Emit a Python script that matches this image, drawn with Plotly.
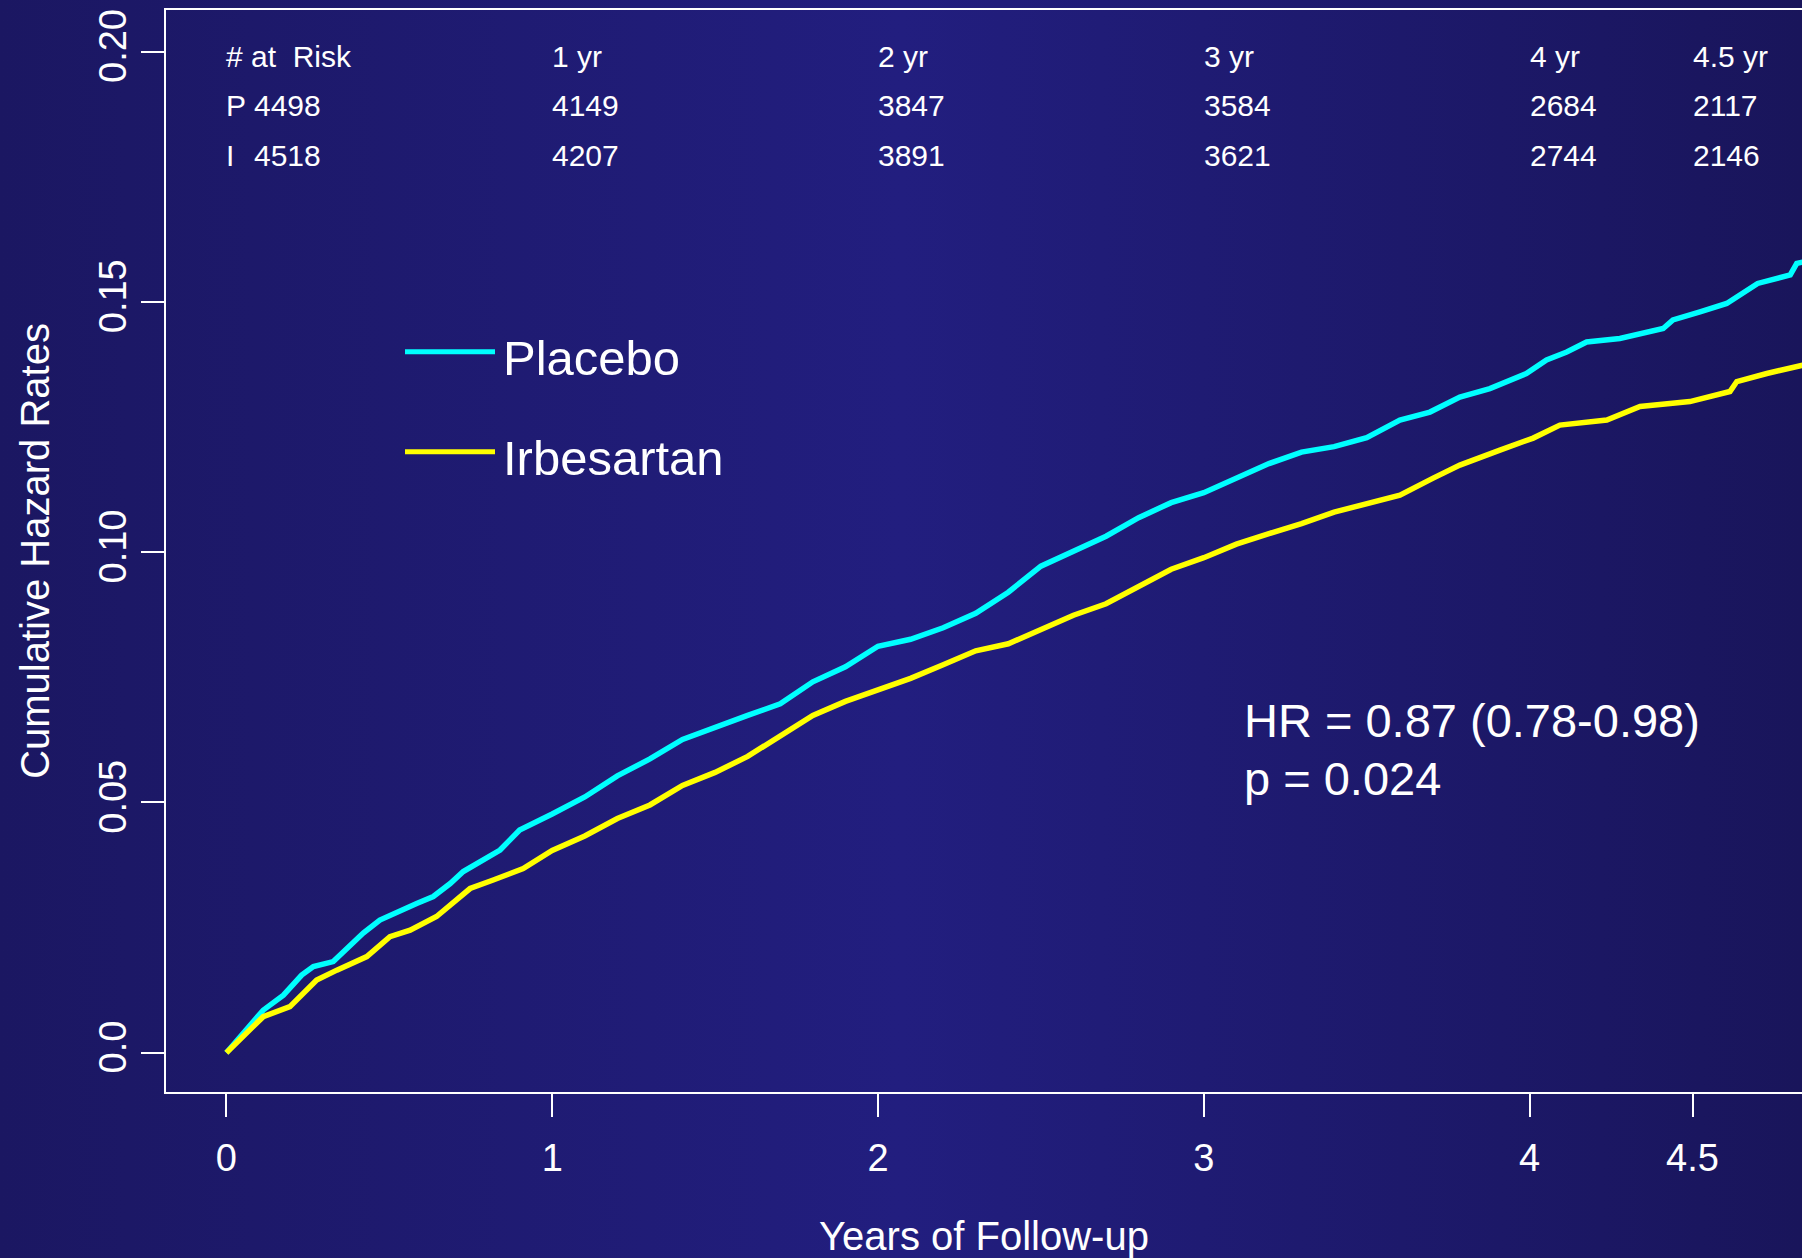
import base64
import plotly.graph_objects as go

# ---------------- data ----------------
placebo_years = [0, 0.113, 0.175, 0.231, 0.267, 0.328, 0.42, 0.471, 0.584, 0.635, 0.687, 0.727,
                 0.84, 0.9, 1.0, 1.1, 1.2, 1.3, 1.4, 1.5, 1.6, 1.7, 1.8, 1.9, 2.0, 2.1, 2.2, 2.3,
                 2.4, 2.5, 2.6, 2.7, 2.8, 2.9, 3.0, 3.1, 3.2, 3.3, 3.4, 3.5, 3.602, 3.694, 3.786,
                 3.878, 3.99, 4.052, 4.114, 4.175, 4.277, 4.41, 4.44, 4.523, 4.605, 4.70, 4.80,
                 4.82, 4.84]
placebo_hazard = [0, 0.0085, 0.0115, 0.0155, 0.0172, 0.0182, 0.0239, 0.0265, 0.0298, 0.0312,
                  0.0338, 0.0362, 0.0405, 0.0445, 0.0477, 0.0511, 0.0553, 0.0587, 0.0626, 0.0651,
                  0.0674, 0.0697, 0.0741, 0.0771, 0.0812, 0.0826, 0.0849, 0.0878, 0.092, 0.0972,
                  0.1002, 0.1032, 0.1069, 0.1099, 0.1119, 0.1147, 0.1177, 0.12, 0.1211, 0.1229,
                  0.1264, 0.128, 0.131, 0.1327, 0.1357, 0.1384, 0.14, 0.142, 0.1427, 0.1447,
                  0.1464, 0.148, 0.1497, 0.1537, 0.1554, 0.1577, 0.158]

irbesartan_years = [0, 0.113, 0.195, 0.277, 0.339, 0.431, 0.502, 0.564, 0.645, 0.748, 0.819,
                    0.911, 1.0, 1.1, 1.2, 1.3, 1.4, 1.5, 1.6, 1.7, 1.8, 1.9, 2.0, 2.1, 2.2, 2.3,
                    2.4, 2.5, 2.6, 2.7, 2.8, 2.9, 3.0, 3.1, 3.2, 3.3, 3.4, 3.5, 3.602, 3.704,
                    3.786, 3.909, 4.011, 4.093, 4.237, 4.339, 4.492, 4.615, 4.636, 4.728, 4.84]
irbesartan_hazard = [0, 0.0072, 0.0092, 0.0145, 0.0165, 0.0192, 0.0232, 0.0245, 0.0272, 0.0328,
                     0.0345, 0.0368, 0.0404, 0.0433, 0.0468, 0.0495, 0.0534, 0.056, 0.0592,
                     0.0633, 0.0674, 0.0702, 0.0725, 0.0748, 0.0775, 0.0803, 0.0817, 0.0846,
                     0.0874, 0.0897, 0.0931, 0.0966, 0.0989, 0.1016, 0.1037, 0.1057, 0.108,
                     0.1096, 0.1114, 0.1148, 0.1174, 0.1204, 0.1228, 0.1254, 0.1264, 0.1291,
                     0.1301, 0.1321, 0.1341, 0.1357, 0.1374]

x_tick_values = [0, 1, 2, 3, 4, 4.5]
x_tick_labels = ["0", "1", "2", "3", "4", "4.5"]
y_tick_values = [0, 0.05, 0.10, 0.15, 0.20]
y_tick_labels = ["0.0", "0.05", "0.10", "0.15", "0.20"]

risk_times = [0, 1, 2, 3, 4, 4.5]
risk_headers = ["# at  Risk", "1 yr", "2 yr", "3 yr", "4 yr", "4.5 yr"]
placebo_at_risk = [4498, 4149, 3847, 3584, 2684, 2117]
irbesartan_at_risk = [4518, 4207, 3891, 3621, 2744, 2146]

series_names = ["Placebo", "Irbesartan"]
series_colors = ["#00FFFF", "#FFFF00"]

hr_text = "HR = 0.87 (0.78-0.98)"
p_text = "p = 0.024"

# ---------------- figure ----------------
W, H = 1802, 1258
ML, MR, MT, MB = 166, 0, 10, 166
FONT = "Liberation Sans, Arial, Helvetica, sans-serif"
WHITE = "#FFFFFF"

fig = go.Figure()
fig.add_trace(go.Scatter(x=placebo_years, y=placebo_hazard, mode="lines",
                         name=series_names[0],
                         line=dict(color=series_colors[0], width=5.5), showlegend=False))
fig.add_trace(go.Scatter(x=irbesartan_years, y=irbesartan_hazard, mode="lines",
                         name=series_names[1],
                         line=dict(color=series_colors[1], width=5.5), showlegend=False))

# background gradient
svg = ('<svg xmlns="http://www.w3.org/2000/svg" width="1802" height="1258" '
       'preserveAspectRatio="none"><defs><linearGradient id="g" x1="0" y1="0" x2="1" y2="0">'
       '<stop offset="0" stop-color="#1b1762"/><stop offset="0.5" stop-color="#221e7f"/>'
       '<stop offset="1" stop-color="#19155b"/></linearGradient></defs>'
       '<rect width="1802" height="1258" fill="url(#g)"/></svg>')
src = "data:image/svg+xml;base64," + base64.b64encode(svg.encode()).decode()
pw, ph = W - ML - MR, H - MT - MB
fig.add_layout_image(dict(source=src, xref="paper", yref="paper",
                          x=-ML / pw, y=1 + MT / ph, sizex=W / pw, sizey=H / ph,
                          xanchor="left", yanchor="top", sizing="stretch", layer="below"))

def px_to_paper_x(px):
    return (px - ML) / pw

def px_to_paper_y(py):
    return (H - MB - py) / ph

annotations = []
# at-risk table
row_y = [px_to_paper_y(56.7), px_to_paper_y(105.5), px_to_paper_y(155.5)]
for t, hdr in zip(risk_times, risk_headers):
    annotations.append(dict(x=t, xref="x", y=row_y[0], yref="paper", text=hdr,
                            showarrow=False, xanchor="left", yanchor="middle", xshift=-2,
                            font=dict(size=30, color=WHITE, family=FONT)))
for i, (t, pv, iv) in enumerate(zip(risk_times, placebo_at_risk, irbesartan_at_risk)):
    shift = 26 if i == 0 else -2
    annotations.append(dict(x=t, xref="x", y=row_y[1], yref="paper", text=str(pv),
                            showarrow=False, xanchor="left", yanchor="middle", xshift=shift,
                            font=dict(size=30, color=WHITE, family=FONT)))
    annotations.append(dict(x=t, xref="x", y=row_y[2], yref="paper", text=str(iv),
                            showarrow=False, xanchor="left", yanchor="middle", xshift=shift,
                            font=dict(size=30, color=WHITE, family=FONT)))
for lab, ry in zip(["P", "I"], row_y[1:]):
    annotations.append(dict(x=risk_times[0], xref="x", y=ry, yref="paper", text=lab,
                            showarrow=False, xanchor="left", yanchor="middle", xshift=-2,
                            font=dict(size=30, color=WHITE, family=FONT)))

# legend (manual)
shapes = []
leg_y = [px_to_paper_y(351.7), px_to_paper_y(451.7)]
leg_text_y = [px_to_paper_y(358), px_to_paper_y(458)]
for name, col, ly, ty in zip(series_names, series_colors, leg_y, leg_text_y):
    shapes.append(dict(type="line", xref="paper", yref="paper",
                       x0=px_to_paper_x(405), x1=px_to_paper_x(495), y0=ly, y1=ly,
                       line=dict(color=col, width=5)))
    annotations.append(dict(x=px_to_paper_x(501), xref="paper", y=ty, yref="paper",
                            text=name, showarrow=False, xanchor="left", yanchor="middle",
                            font=dict(size=49, color=WHITE, family=FONT)))

# HR / p text
annotations.append(dict(x=px_to_paper_x(1242), xref="paper", y=px_to_paper_y(720), yref="paper",
                        text=hr_text, showarrow=False, xanchor="left", yanchor="middle",
                        font=dict(size=47, color=WHITE, family=FONT)))
annotations.append(dict(x=px_to_paper_x(1242), xref="paper", y=px_to_paper_y(778), yref="paper",
                        text=p_text, showarrow=False, xanchor="left", yanchor="middle",
                        font=dict(size=47, color=WHITE, family=FONT)))

x0_px = 226.4
per_year = 325.8
y0_px = 1052.7
per_unit = 5005.0

fig.update_layout(
    width=W, height=H,
    margin=dict(l=ML, r=MR, t=MT, b=MB, pad=0),
    paper_bgcolor="#1e1a70",
    plot_bgcolor="rgba(0,0,0,0)",
    font=dict(family=FONT, color=WHITE),
    annotations=annotations,
    shapes=shapes,
    xaxis=dict(range=[-(x0_px - ML) / per_year, (W - MR - x0_px) / per_year],
               tickmode="array", tickvals=x_tick_values, ticktext=x_tick_labels,
               showgrid=False, zeroline=False, showline=True, linecolor=WHITE, linewidth=2,
               mirror=True, ticks="outside", ticklen=23, tickwidth=2, tickcolor=WHITE,
               tickfont=dict(size=38, color=WHITE, family=FONT), ticklabelstandoff=8,
               title=dict(text="Years of Follow-up", font=dict(size=40, color=WHITE, family=FONT),
                          standoff=44)),
    yaxis=dict(range=[-(H - MB - y0_px) / per_unit, (y0_px - MT) / per_unit],
               tickmode="array", tickvals=y_tick_values, ticktext=y_tick_labels,
               showgrid=False, zeroline=False, showline=True, linecolor=WHITE, linewidth=2,
               mirror=False, ticks="outside", ticklen=23, tickwidth=2, tickcolor=WHITE,
               tickangle=-90, tickfont=dict(size=38, color=WHITE, family=FONT),
               ticklabelstandoff=0,
               title=dict(text="Cumulative Hazard Rates", font=dict(size=40, color=WHITE, family=FONT),
                          standoff=30)),
)

fig.write_html("out.html", include_plotlyjs=True, config={"displayModeBar": False},
               post_script="document.body.style.margin='0';document.body.style.overflow='hidden';")
